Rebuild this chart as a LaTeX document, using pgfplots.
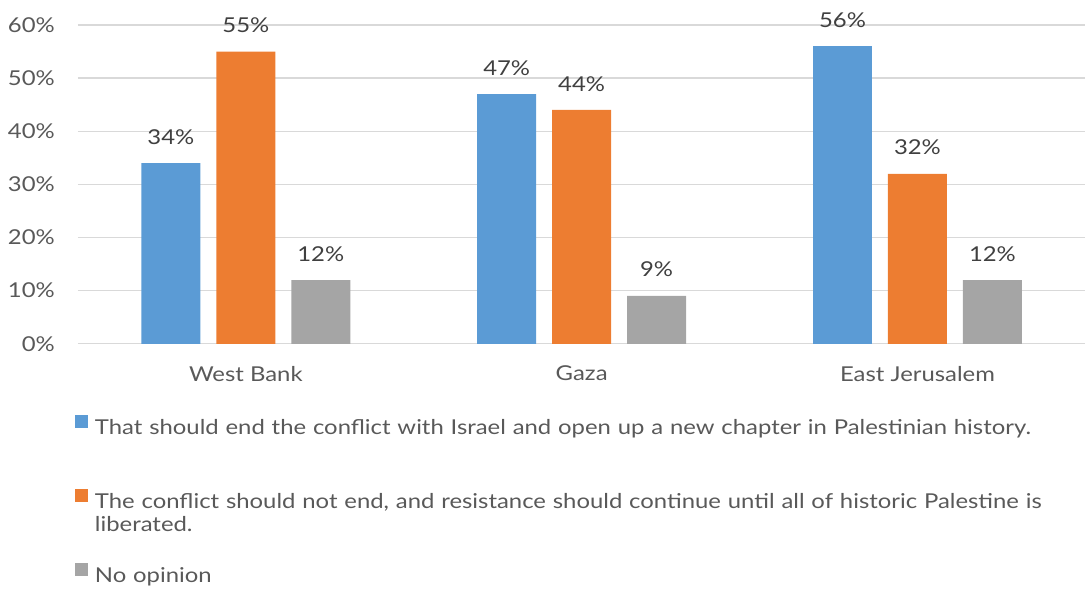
\documentclass[border=0pt]{standalone}
\usepackage{pgfplots}
\pgfplotsset{compat=1.18}
\usepackage{fontspec}
\setmainfont{Lato}[FakeStretch=1.165]
\definecolor{cblue}{HTML}{5B9BD5}
\definecolor{corange}{HTML}{ED7D31}
\definecolor{cgray}{HTML}{A5A5A5}
\definecolor{gridc}{HTML}{D9D9D9}
\definecolor{tickc}{HTML}{595959}
\definecolor{labc}{HTML}{404040}
\begin{document}
\begin{tikzpicture}
\begin{axis}[name=ax, scale only axis, width=1008pt, height=319pt,
  xmin=-0.5, xmax=2.5, ymin=0, ymax=60,
  ybar=16pt, bar width=59pt,
  xtick={0,1,2}, xticklabels={West Bank,Gaza,East Jerusalem},
  ytick={0,10,...,60},
  yticklabel={\pgfmathprintnumber{\tick}\%},
  /pgf/number format/assume math mode=true,
  ymajorgrids, xmajorgrids=false,
  grid style={draw=gridc, line width=1.3pt},
  axis line style={draw=none}, major tick length=0pt,
  tick label style={font=\fontsize{20.5}{24}\selectfont, text=tickc, inner sep=0pt},
  yticklabel style={xshift=-23pt},
  xticklabel style={yshift=-22pt},
  nodes near coords={\pgfmathprintnumber{\pgfplotspointmeta}\%},
  every node near coord/.append style={font=\fontsize{20.5}{24}\selectfont, text=labc, anchor=base, yshift=19pt, inner sep=0pt},
  legend cell align=left,
  legend image code/.code={\fill[#1] (0pt,0pt) rectangle (13pt,13pt); \path (20pt,0pt);},
  legend style={at={(0,0)}, anchor=north west, xshift=-3pt, yshift=-71pt,
    draw=none, fill=none, inner sep=0pt, outer sep=0pt, row sep=53pt, column sep=0pt,
    font=\fontsize{20.5}{21}\selectfont, text=tickc,
    nodes={inner sep=0pt, text width=985pt, align=left, text=tickc}},
]
\addplot[fill=cblue, draw=none] coordinates {(0,34) (1,47) (2,56)};
\addplot[fill=corange, draw=none] coordinates {(0,55) (1,44) (2,32)};
\addplot[fill=cgray, draw=none] coordinates {(0,12) (1,9) (2,12)};
\addlegendentry{\strut That should end the conflict with Israel and open up a new chapter in Palestinian history.\\\strut}
\addlegendentry{\strut The conflict should not end, and resistance should continue until all of historic Palestine is\\\strut liberated.}
\addlegendentry{\strut No opinion}
\end{axis}
\path[use as bounding box] ([shift={(-78pt,-246pt)}]ax.south west) rectangle ([shift={(0pt,25pt)}]ax.north east);
\end{tikzpicture}
\end{document}
